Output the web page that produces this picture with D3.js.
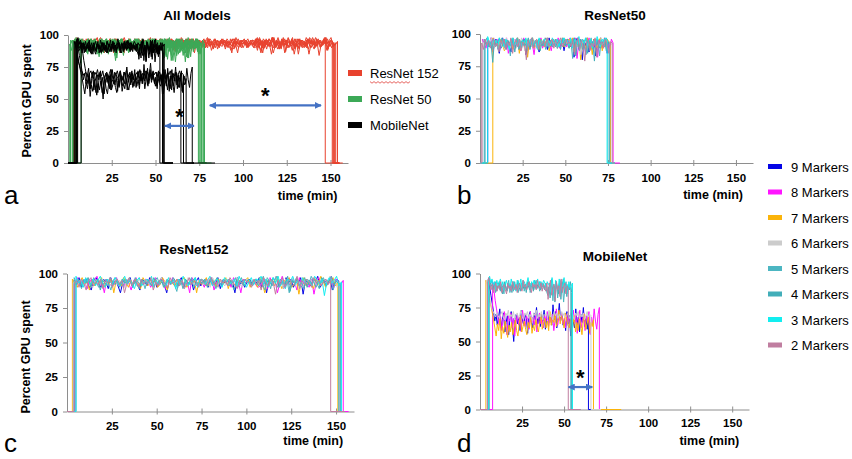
<!DOCTYPE html>
<html>
<head>
<meta charset="utf-8">
<script src="https://cdn.jsdelivr.net/npm/d3@7"></script>
<style>
  body { margin: 0; background: #fff; }
  svg { display: block; }
  text { font-family: "Liberation Sans", Arial, sans-serif; fill: #000; }
</style>
</head>
<body>
<svg id="chart" width="852" height="459"></svg>
<script>
const markers = ["9 Markers", "8 Markers", "7 Markers", "6 Markers", "5 Markers", "4 Markers", "3 Markers", "2 Markers"]
const markerColors = ["#0505e6", "#ff14ff", "#fbb40a", "#cccccc", "#4cb6c2", "#42aeb9", "#12eef0", "#c07ea0"]
const models = ["ResNet 152", "ResNet 50", "MobileNet"]
const modelColors = ["#e8422e", "#3ca957", "#000000"]
const timeTicks = [25, 50, 75, 100, 125, 150]
const gpuTicks = [0, 25, 50, 75, 100]

// ResNet152 runs, marker order 9 ... 2 (minutes)
const r152Start = [4, 4.5, 3, 3.5, 4, 5, 5, 4]
const r152End = [152, 154, 151, 152, 152.5, 151.5, 153, 147]
const r152Tail = [155, 157, 155, 155, 155, 155, 155, 155]
const r152_9 = [95,92,97,90,94,96,91,88,95,97,93,90,96,94,89,97,92,95,91,86,94,96,93,97,90,95,92,88,96,94,91,97,93,95,90,94,97,92,86,95,93,96,91,94,97,90,95,92,96,88,94,97,91,95,93,90,96,94,92,97,89,95,93,96,91,94,86,97,92,95,90,94,96,93,95,93,97,90,95,86,96,92,94,98,91,95,89,97,93,96,90,94,92,97,85,95,93,91,96,94,98,90,93,95,92,97,88,94,96,93]
const r152_8 = [94,97,91,95,93,89,96,92,95,98,90,94,86,96,93,91,95,97,92,94,90,96,93,88,95,97,91,94,92,96,95,90,93,97,91,94,96,89,95,92,97,93,90,96,94,92,95,86,97,93,91,95,94,90,96,92,97,88,94,95,91,96,93,95,90,97,92,94,86,96,93,95,91,94,92,90,91,96,94,89,97,92,95,86,93,98,90,95,92,96,94,88,97,91,95,93,90,96,85,94,97,92,95,91,93,98,89,96,94,92,95]
const r152_7 = [96,93,90,95,97,92,94,88,96,91,95,93,97,90,94,92,96,86,95,93,91,97,94,90,95,92,96,93,89,97,94,91,95,93,96,90,92,97,94,88,95,93,91,96,92,95,97,90,94,93,96,86,95,92,94,97,91,93,95,90,96,94,92,97,89,95,93,91,96,94,92,95,97,90,94,94,90,97,93,86,95,92,96,91,98,94,89,95,93,97,90,92,96,85,94,97,91,95,93,89,96,92,98,94,90,95,93,97,91,94]
const r152_6 = [93,95,92,96,94,91,97,93,90,95,94,92,96,93,95,91,94,97,92,95,93,90,96,94,92,95,91,97,93,94,96,92,95,90,94,93,97,91,95,92,94,96,93,90,95,94,92,97,93,95,91,94,96,92,93,95,90,97,94,92,95,93,91,96,94,92,95,97,93,90,94,96,92,95,93,95,92,97,93,90,96,94,91,98,93,95,89,96,92,94,97,91,95,93,90,96,94,92,97,93,95,91,94,96,92,98,93,95,90,94]
const r152_5 = [97,92,94,89,96,93,95,91,97,94,90,95,92,96,93,88,95,97,92,94,91,96,93,95,90,97,94,92,95,89,96,93,91,95,97,92,94,90,96,93,95,92,87,96,94,91,95,93,97,90,94,92,96,95,91,93,97,94,89,95,92,96,94,91,95,93,97,90,94,92,96,93,95,91,94,92,96,93,88,97,94,91,95,98,90,94,92,96,86,95,93,97,91,94,89,96,92,98,94,90,95,93,97,91,94,96,88,95,93,92]
const r152_4 = [94,96,91,95,93,97,90,94,92,96,88,95,93,91,97,94,92,95,90,96,93,94,97,91,95,92,89,96,94,93,95,91,97,92,94,96,90,93,95,92,97,94,91,95,89,96,93,92,95,97,91,94,93,96,90,95,92,94,97,93,91,95,94,96,92,88,95,93,97,91,94,96,92,95,96,91,94,98,92,95,89,97,93,90,96,94,92,98,87,95,93,96,91,94,97,90,95,92,96,93,89,97,94,91,95,98,92,94,93]
const r152_3 = [98,93,95,90,97,94,92,96,91,95,98,93,90,96,94,92,97,95,91,94,98,92,96,93,89,95,97,91,94,96,93,98,90,95,92,96,94,91,97,93,95,89,96,92,98,94,91,95,93,97,90,96,94,92,95,98,91,94,96,93,90,97,95,92,94,96,91,98,93,95,90,94,97,92,96,95,98,92,96,90,94,97,93,98,91,95,89,96,94,98,92,95,90,97,93,96,94,91,98,95,92,96,84,94,97,93,95,98,91,94]
const r152_2 = [92,95,90,96,93,88,95,97,91,94,92,96,89,95,93,97,90,94,96,92,95,86,93,97,91,95,94,90,96,92,95,93,97,88,94,91,96,95,92,90,97,93,94,96,91,95,89,93,97,92,95,94,90,96,93,91,95,97,92,94,90,96,93,95,91,97,94,92,89,95,93,96,94,94,90,96,92,95,88,97,93,91,96,94,85,95,92,97,90,94,96,91,93,98,89,95,92,96,94,90,97,93,95,91,94,96,92,95]

// ResNet50 runs
const r50Start = [4.5, 1.5, 7.5, 1.5, 3, 2.5, 4.5, 1]
const r50End = [76.5, 78, 76.5, 76, 75, 76, 74.5, 77.5]
const r50Tail = [79, 82, 79, 79, 79, 79, 79, 79]
const r50_9 = [95,91,97,88,93,96,90,85,94,97,92,89,95,91,86,96,93,90,97,88,94,92,96,84,93,95,90,97,89,94,92,86,96,91,95,93,88,97,90,94,92,96,89,93,91,95,87,94,96,92,90,96,82,94,97,88,93,80,95,91,97,86,94,92,96,83,95,90,97,89,93,96,85,94,92]
const r50_8 = [96,93,89,95,92,97,86,94,91,96,88,93,95,90,97,85,92,94,89,96,91,95,87,93,97,90,94,88,96,92,84,95,91,93,97,89,94,90,96,92,87,95,93,91,97,89,94,92,96,90,95,97,94,89,97,81,93,96,90,95,84,92,97,88,94,91,96,82,95,93,89,97,90,94,86,96,93]
const r50_7 = [97,92,95,89,94,96,91,87,95,93,90,96,88,94,92,97,85,93,95,90,96,82,94,91,97,89,93,95,88,96,92,90,94,97,87,93,95,91,96,89,94,92,97,90,93,95,96,93,97,86,94,90,96,80,93,95,88,97,91,94,84,96,92,89,95,97,87,93,90,96,94,92]
const r50_6 = [94,96,92,95,90,97,93,89,95,92,96,91,94,88,97,93,90,95,92,96,89,94,91,97,93,87,95,92,96,90,94,93,89,96,92,95,91,97,94,90,93,96,92,95,89,94,97,91,93,96,95,91,95,88,97,93,90,96,84,94,92,97,89,95,91,93,86,96,94,90,97,92,95,88,94,93]
const r50_5 = [93,97,90,94,88,96,92,95,86,93,97,91,89,95,92,83,96,90,94,97,88,93,95,91,96,87,94,92,97,90,95,89,93,96,91,94,88,97,92,95,90,93,96,89,94,92,97,91,95,96,89,94,81,97,92,95,87,93,96,90,84,95,92,97,88,94,91,96,83,95,93,90,97,94]
const r50_4 = [96,92,95,90,93,78,95,91,94,97,89,92,96,88,95,93,90,97,86,94,92,95,89,96,91,93,97,88,94,90,95,92,96,87,93,91,97,94,89,95,92,96,90,93,95,88,94,97,91,93,89,95,92,97,83,94,90,96,88,93,97,85,95,91,94,79,96,92,89,95,93,97,87,94,92]
const r50_3 = [98,94,91,96,93,95,89,97,92,94,90,96,93,88,95,97,91,94,92,96,89,95,93,97,90,94,96,91,93,95,88,97,92,94,96,90,93,95,91,97,94,92,96,90,95,93,97,94,95,91,97,89,94,96,92,98,90,95,93,97,91,94,96,89,95,92,98,93,90,96,94,97,95]
const r50_2 = [93,88,96,91,95,89,94,97,90,93,86,95,92,96,88,94,91,97,85,93,95,90,96,87,94,92,80,95,91,97,89,93,96,88,94,92,95,90,97,91,93,96,89,95,92,94,97,90,93,96,92,94,90,96,84,93,97,88,95,91,79,94,96,87,93,90,97,82,95,92,94,89,96,91,85,94,93]

// MobileNet runs
const mobStart = [5, 7.5, 3.5, 4, 5, 5.5, 5, 4.5]
const mobEnd = [64.5, 71, 67.5, 66, 54, 54.5, 55, 52.5]
const mobTail = [72, 72, 84, 72, 60, 60, 60, 60]
const mob_9 = [96,90,84,78,72,65,70,62,68,74,60,66,71,57,64,69,55,67,72,61,50,66,70,63,68,58,73,65,62,70,67,56,69,72,64,60,71,66,75,63,68,61,70,65,73,59,67,71,64,69,62,77,66,72,60,68,78,65,70,62,66,58,72,63,69,54,71,65,60,74,62,68,57,70,64,75,61,67,59,70]
const mob_8 = [94,88,80,74,68,62,70,58,66,72,63,55,69,65,71,60,67,54,64,70,62,68,57,73,65,61,69,66,59,72,64,68,62,70,57,66,71,63,67,60,69,65,72,61,68,64,70,58,66,74,62,69,65,71,63,67,60,70,64,68,62,66,73,63,70,56,67,73,60,66,71,58,69,64,72,55,68,62,74,65,59,70,75]
const mob_7 = [95,92,86,80,76,71,66,60,54,63,58,67,52,61,56,65,59,53,62,57,64,55,60,66,58,54,63,69,57,61,65,59,55,64,60,68,56,62,58,66,61,57,64,70,59,63,67,60,65,58,72,62,68,64,70,61,66,73,63,69,65,60,71,66,62,60,66,54,63,69,57,64,58,67,62,55,65,70,59,63,68,56,64,61,66]
const mob_6 = [95,90,84,78,74,72,70,68,71,69,67,70,72,68,66,71,69,73,67,70,68,72,66,69,71,67,70,73,68,66,71,69,72,67,70,68,65,71,69,73,67,70,68,72,66,70,69,71,67,73,68,70,66,72,69,71,67,70,68,72,69,71,68,69,71,67,70,73,68,66,71,69,72,67,70,68,71,66,69,72,68,70,69]
const mob_5 = [96,94,90,92,88,93,86,91,89,94,87,92,90,85,93,88,91,95,86,90,92,87,94,89,91,86,93,90,88,95,87,92,89,91,94,86,90,93,88,92,95,89,91,87,94,90,92,88,93,90,84,93,88,96,80,91,87,94,82,90,95,86,92,79,89,94,85,91,88,90]
const mob_4 = [97,92,95,89,91,94,87,90,93,88,92,85,91,94,89,87,93,90,92,86,94,89,91,88,95,90,87,93,91,89,92,86,94,90,88,93,91,87,95,89,92,90,94,88,91,93,89,92,87,84,90,82,95,87,92,79,94,89,85,93,81,91,96,86,90,83,92,88,94,86]
const mob_3 = [95,98,93,96,92,94,89,95,91,93,96,90,94,88,92,95,91,93,89,96,92,94,90,87,95,93,91,96,89,92,94,90,93,97,91,88,94,92,95,90,93,96,91,94,89,92,95,93,90,94,92,92,86,97,90,83,95,91,88,96,84,93,90,97,87,92,85,94,89,91,93]
const mob_2 = [94,97,91,88,92,86,90,93,87,91,89,94,86,90,92,88,85,93,89,91,87,94,90,88,92,86,91,93,89,87,95,90,92,88,91,94,89,86,93,90,92,88,95,91,89,93,87,92,90,87,93,81,90,95,84,89,92,80,94,88,91,83,96,86,90,93,85,91,89]

// blue "*" gap arrows: [panel, from (min), to (min), level (%)]
const gapArrows = [["a", 55.4, 72, 29], ["a", 81, 144.6, 45], ["d", 52.6, 66.8, 16.5]]

function buildRuns(starts, ends, tails, valueLists) {
    return valueLists.map((values, i) => {
        const step = (ends[i] - starts[i]) / (values.length - 1)
        const pts = [[0, 0], [starts[i], 0]]
        values.forEach((v, k) => pts.push([starts[i] + k * step, v]))
        pts.push([ends[i], 0], [tails[i], 0])
        return { marker: i, points: pts }
    })
}

const runs152 = buildRuns(r152Start, r152End, r152Tail, [r152_9, r152_8, r152_7, r152_6, r152_5, r152_4, r152_3, r152_2])
const runs50 = buildRuns(r50Start, r50End, r50Tail, [r50_9, r50_8, r50_7, r50_6, r50_5, r50_4, r50_3, r50_2])
const runsMob = buildRuns(mobStart, mobEnd, mobTail, [mob_9, mob_8, mob_7, mob_6, mob_5, mob_4, mob_3, mob_2])

const svg = d3.select("#chart")

const defs = svg.append("defs")
defs.append("marker")
    .attr("id", "head")
    .attr("viewBox", "0 0 10 10")
    .attr("refX", 9).attr("refY", 5)
    .attr("markerWidth", 3.2).attr("markerHeight", 3.2)
    .attr("orient", "auto-start-reverse")
    .append("path")
    .attr("d", "M0,0L10,5L0,10Z")
    .attr("fill", "#4472c4")

const panels = [
    { id: "a", title: "All Models", xr: [68, 348], yr: [163, 35], yTitleY: 101, labelPad: 8,
      groups: [[runs152, () => modelColors[0]], [runs50, () => modelColors[1]], [runsMob, () => modelColors[2]]],
      titleX: 197, titleY: 20, timeY: 200, letter: [4, 204] },
    { id: "b", title: "ResNet50", xr: [480, 753], yr: [163, 34], yTitleY: null, labelPad: 8,
      groups: [[runs50, d => markerColors[d.marker]]],
      titleX: 615, titleY: 20, timeY: 199, letter: [457, 204] },
    { id: "c", title: "ResNet152", xr: [67, 354], yr: [411.5, 273.5], yTitleY: 357, labelPad: 7,
      groups: [[runs152, d => markerColors[d.marker]]],
      titleX: 194, titleY: 254, timeY: 445, letter: [4, 452] },
    { id: "d", title: "MobileNet", xr: [480, 749], yr: [409.5, 273.5], yTitleY: null, labelPad: 6,
      groups: [[runsMob, d => markerColors[d.marker]]],
      titleX: 615, titleY: 261, timeY: 445, letter: [457, 452] }
]

panels.forEach(p => {
    const x = d3.scaleLinear().domain([0, 160]).range(p.xr)
    const y = d3.scaleLinear().domain([0, 100]).range(p.yr)
    const g = svg.append("g")

    // axes
    const xAxis = g.append("g")
        .attr("transform", `translate(0,${p.yr[0]})`)
        .call(d3.axisBottom(x).tickValues(timeTicks).tickSize(3).tickSizeOuter(0).tickPadding(p.labelPad))
    xAxis.selectAll(".tick line").attr("y1", -3)
    g.append("g")
        .attr("transform", `translate(${p.xr[0]},0)`)
        .call(d3.axisLeft(y).tickValues(gpuTicks).tickSize(4).tickSizeOuter(0).tickPadding(5))
    g.selectAll(".domain, .tick line").attr("stroke", "#8e8e8e")
    g.selectAll(".tick text")
        .attr("font-family", "'Liberation Sans', Arial, sans-serif")
        .attr("font-size", 11.5).attr("font-weight", "bold").attr("fill", "#111")

    // traces
    const line = d3.line().x(d => x(d[0])).y(d => y(d[1]))
    p.groups.forEach(([runs, color]) => {
        g.append("g").selectAll("path")
            .data(runs)
            .join("path")
            .attr("d", d => line(d.points))
            .attr("fill", "none")
            .attr("stroke", color)
            .attr("stroke-width", 1)
            .attr("stroke-linejoin", "round")
    })

    // gap annotations
    gapArrows.filter(a => a[0] === p.id).forEach(a => {
        g.append("line")
            .attr("x1", x(a[1])).attr("x2", x(a[2]))
            .attr("y1", y(a[3])).attr("y2", y(a[3]))
            .attr("stroke", "#4472c4").attr("stroke-width", 2.2)
            .attr("marker-start", "url(#head)").attr("marker-end", "url(#head)")
        g.append("text")
            .attr("x", x((a[1] + a[2]) / 2)).attr("y", y(a[3]) - 2)
            .attr("text-anchor", "middle")
            .attr("font-size", 22).attr("font-weight", "bold")
            .text("*")
    })

    // texts
    g.append("text")
        .attr("x", p.titleX).attr("y", p.titleY)
        .attr("text-anchor", "middle").attr("font-size", 13.5).attr("font-weight", "bold")
        .text(p.title)
    g.append("text")
        .attr("x", x(150) + 7).attr("y", p.timeY)
        .attr("text-anchor", "end").attr("font-size", 12.5).attr("font-weight", "bold")
        .text("time (min)")
    if (p.yTitleY) {
        g.append("text")
            .attr("transform", `translate(${p.xr[0] - 37},${p.yTitleY}) rotate(-90)`)
            .attr("text-anchor", "middle").attr("font-size", 12.5).attr("font-weight", "bold")
            .text("Percent GPU spent")
    }
    g.append("text")
        .attr("x", p.letter[0]).attr("y", p.letter[1])
        .attr("font-family", "'DejaVu Serif', serif").attr("font-size", 26)
        .text(p.id)
})

// model legend (panel a)
const modelLegend = svg.append("g").selectAll("g")
    .data(models)
    .join("g")
    .attr("transform", (d, i) => `translate(348,${73 + i * 26})`)
modelLegend.append("rect")
    .attr("x", 0).attr("y", -3).attr("width", 14).attr("height", 6)
    .attr("fill", (d, i) => modelColors[i])
modelLegend.append("text")
    .attr("x", 22).attr("y", 5)
    .attr("font-size", 13)
    .text(d => d)
// spell-check squiggle under "ResNet"
const squiggle = d3.range(0, 42, 2).map((v, i) => [370 + v, 82 + (i % 2 ? 1.2 : -0.4)])
svg.append("path")
    .attr("d", d3.line()(squiggle))
    .attr("fill", "none").attr("stroke", "#e0403a").attr("stroke-width", 0.8)

// marker legend (right)
const markerLegend = svg.append("g").selectAll("g")
    .data(markers)
    .join("g")
    .attr("transform", (d, i) => `translate(768,${166.5 + i * 25.5})`)
markerLegend.append("rect")
    .attr("x", 0).attr("y", -2.5).attr("width", 14).attr("height", 5)
    .attr("fill", (d, i) => markerColors[i])
markerLegend.append("text")
    .attr("x", 23).attr("y", 5)
    .attr("font-size", 13)
    .text(d => d)
</script>
</body>
</html>
